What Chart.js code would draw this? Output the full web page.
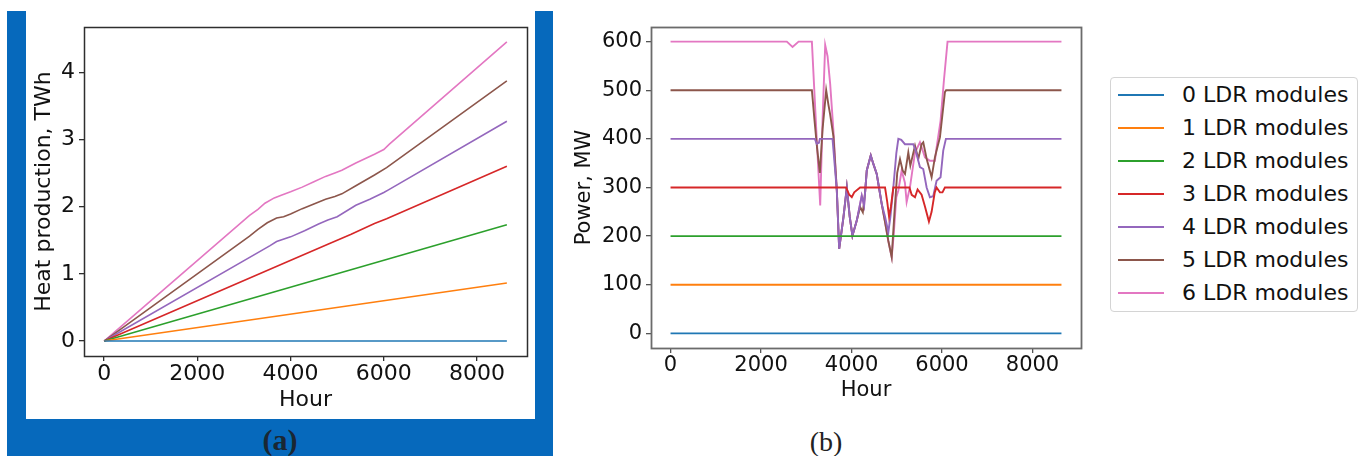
<!DOCTYPE html>
<html>
<head>
<meta charset="utf-8">
<script src="https://cdn.jsdelivr.net/npm/chart.js@4.4.1/dist/chart.umd.min.js"></script>
<style>
  body { margin: 0; width: 1365px; height: 456px; background: #fff; overflow: hidden; position: relative; }
  #panelA { position: absolute; left: 7px; top: 11px; width: 546px; height: 445px; background: #0669bc; }
  #whiteA { position: absolute; left: 26px; top: 11px; width: 509px; height: 408px; background: #fff; }
  canvas { position: absolute; }
  #heatChart { left: 26px; top: 11px; }
  #powerChart { left: 560px; top: 0; }
  .caption { position: absolute; font-family: "Liberation Serif", serif; line-height: 34px; text-align: center; }
  #capA { left: 7px; width: 546px; top: 423px; font-weight: bold; font-size: 30px; color: #1a2733; }
  #capB { left: 776px; width: 100px; top: 425px; font-size: 28px; color: #222; }
  #legend { position: absolute; left: 1110px; top: 77px; width: 248px; height: 235px; box-sizing: border-box;
            border: 1px solid #d4d4d4; border-radius: 4px; background: #fff;
            font-family: "DejaVu Sans", sans-serif; font-size: 22px; color: #111; }
  .item { position: absolute; left: 0; height: 33px; line-height: 33px; width: 100%; }
  .swatch { position: absolute; left: 7px; top: 16px; width: 46px; height: 0; border-top: 2px solid; }
  .label { position: absolute; left: 71px; top: 0; white-space: nowrap; }
</style>
</head>
<body>
<div id="panelA"></div>
<div id="whiteA"></div>
<canvas id="heatChart" width="509" height="408"></canvas>
<canvas id="powerChart" width="525" height="420"></canvas>
<div id="legend"></div>
<div class="caption" id="capA">(a)</div>
<div class="caption" id="capB">(b)</div>
<script>
// Axis ticks
const hourTicks = [0, 2000, 4000, 6000, 8000];
const heatTicks = [0, 1, 2, 3, 4];
const powerTicks = [0, 100, 200, 300, 400, 500, 600];

const seriesNames = ['0 LDR modules', '1 LDR modules', '2 LDR modules', '3 LDR modules',
                     '4 LDR modules', '5 LDR modules', '6 LDR modules'];
const seriesColors = ['#1f77b4', '#ff7f0e', '#2ca02c', '#d62728', '#9467bd', '#8c564b', '#e377c2'];

// (a) Heat production, TWh (cumulative)
const heatHours0 = [0, 8640];
const heat0 = [0, 0];
const heatHours1 = [0, 8640];
const heat1 = [0, 0.864];
const heatHours2 = [0, 8640];
const heat2 = [0, 1.73];
const heatHours3 = [0, 3930, 4800, 5300, 5800, 6060, 8640];
const heat3 = [0, 1.18, 1.44, 1.59, 1.75, 1.82, 2.60];
const heatHours4 = [0, 3560, 3700, 4000, 4300, 4600, 4800, 5000, 5400, 5700, 6000, 6100, 8640];
const heat4 = [0, 1.42, 1.48, 1.55, 1.64, 1.74, 1.80, 1.85, 2.02, 2.11, 2.21, 2.25, 3.27];
const heatHours5 = [0, 3120, 3300, 3500, 3700, 3850, 4000, 4250, 4500, 4750, 4950, 5100, 5400, 5800, 6060, 8640];
const heat5 = [0, 1.56, 1.66, 1.76, 1.83, 1.85, 1.89, 1.97, 2.04, 2.11, 2.15, 2.19, 2.31, 2.47, 2.58, 3.87];
const heatHours6 = [0, 3120, 3300, 3450, 3650, 3800, 4000, 4250, 4500, 4750, 4950, 5100, 5400, 5800, 6000, 6120, 8640];
const heat6 = [0, 1.87, 1.96, 2.05, 2.13, 2.17, 2.22, 2.29, 2.37, 2.45, 2.50, 2.54, 2.65, 2.78, 2.85, 2.93, 4.45];

// (b) Power, MW
const powerHours0 = [0, 8640];
const power0 = [0, 0];
const powerHours1 = [0, 8640];
const power1 = [100, 100];
const powerHours2 = [0, 8640];
const power2 = [200, 200];
const powerHours3 = [0, 3880, 3950, 4006, 4060, 4190, 4741, 4790, 4830, 4870, 4924, 5280, 5330, 5403,
                     5460, 5549, 5620, 5711, 5770, 5840, 5880, 5954, 6010, 6064, 8640];
const power3 = [300, 300, 285, 280, 290, 300, 300, 270, 240, 260, 300, 300, 285, 280,
                296, 285, 262, 230, 250, 290, 300, 290, 290, 300, 300];
const powerHours4 = [0, 3190, 3230, 3280, 3300, 3580, 3675, 3727, 3822, 3896, 3960, 4020, 4116, 4226,
                     4278, 4337, 4425, 4484, 4557, 4668, 4741, 4814, 4860, 4924, 4990, 5035, 5100,
                     5181, 5365, 5420, 5512, 5585, 5660, 5733, 5806, 5880, 5968, 6027, 6086, 8640];
const power4 = [400, 400, 390, 392, 400, 400, 294, 174, 239, 300, 240, 201, 232, 283,
                263, 335, 366, 348, 328, 266, 240, 208, 240, 300, 370, 400, 398,
                389, 389, 375, 342, 338, 300, 280, 282, 314, 321, 376, 400, 400];
const powerHours5 = [0, 3124, 3180, 3240, 3300, 3360, 3440, 3490, 3528, 3600, 3675, 3727, 3822, 3896,
                     3960, 4020, 4116, 4190, 4250, 4300, 4337, 4425, 4484, 4557, 4668, 4741, 4814,
                     4888, 4950, 5010, 5072, 5130, 5182, 5255, 5300, 5403, 5476, 5549, 5586, 5660,
                     5770, 5843, 5880, 5954, 6064, 6090, 8640];
const power5 = [500, 500, 440, 380, 330, 420, 500, 470, 450, 405, 294, 174, 239, 300,
                240, 201, 232, 260, 249, 290, 335, 366, 348, 328, 266, 229, 190,
                157, 250, 330, 358, 335, 328, 372, 345, 386, 359, 389, 393, 359,
                321, 362, 376, 403, 496, 500, 500];
const powerHours6 = [0, 2570, 2697, 2830, 3124, 3220, 3308, 3360, 3418, 3470, 3528, 3600, 3675, 3727,
                     3822, 3896, 3960, 4020, 4116, 4226, 4278, 4337, 4425, 4484, 4557, 4668, 4741,
                     4814, 4888, 4930, 4990, 5035, 5108, 5180, 5218, 5292, 5403, 5512, 5623, 5733,
                     5843, 5880, 5968, 6041, 6122, 8640];
const power6 = [600, 600, 589, 600, 600, 420, 263, 440, 593, 570, 513, 417, 294, 174,
                239, 300, 240, 201, 232, 283, 263, 335, 366, 348, 328, 266, 229,
                190, 157, 200, 280, 294, 335, 310, 270, 301, 372, 393, 362, 355,
                355, 382, 437, 519, 600, 600];

const heatSeries = [[heatHours0, heat0], [heatHours1, heat1], [heatHours2, heat2], [heatHours3, heat3],
                    [heatHours4, heat4], [heatHours5, heat5], [heatHours6, heat6]];
const powerSeries = [[powerHours0, power0], [powerHours1, power1], [powerHours2, power2], [powerHours3, power3],
                     [powerHours4, power4], [powerHours5, power5], [powerHours6, power6]];

const toPoints = (xs, ys) => xs.map((x, i) => ({x: x, y: ys[i]}));

function makeDatasets(series, width) {
    return series.map((s, i) => ({
        label: seriesNames[i],
        data: toPoints(s[0], s[1]),
        borderColor: seriesColors[i],
        backgroundColor: seriesColors[i],
        borderWidth: width,
        pointRadius: 0,
        tension: 0,
        fill: false
    }));
}

// matplotlib-like box round the plot area
const framePlugin = {
    id: 'frame',
    afterDraw(chart, args, opts) {
        const {ctx, chartArea: a} = chart;
        ctx.save();
        ctx.strokeStyle = opts.color;
        ctx.lineWidth = opts.width;
        ctx.strokeRect(Math.round(a.left) + 0.5, Math.round(a.top) + 0.5,
                       Math.round(a.right - a.left), Math.round(a.bottom - a.top));
        ctx.restore();
    }
};

function makeScales(cfg) {
    const tickFont = {family: 'DejaVu Sans', size: cfg.font, lineHeight: 1};
    const grid = {drawOnChartArea: false, drawTicks: true, tickLength: 5, color: cfg.frame, lineWidth: 1.3};
    return {
        x: {
            type: 'linear', min: cfg.xRange[0], max: cfg.xRange[1],
            afterBuildTicks: s => { s.ticks = hourTicks.map(v => ({value: v})); },
            afterFit: s => { s.height = cfg.xHeight; },
            ticks: {font: tickFont, color: '#111', padding: 2, maxRotation: 0, callback: v => String(v)},
            grid: grid,
            border: {display: false},
            title: {display: true, text: 'Hour', color: '#111', padding: {top: 0, bottom: cfg.xTitlePad},
                    font: {family: 'DejaVu Sans', size: cfg.font}}
        },
        y: {
            type: 'linear', min: cfg.yRange[0], max: cfg.yRange[1],
            afterBuildTicks: s => { s.ticks = cfg.yTicks.map(v => ({value: v})); },
            afterFit: s => { s.width = cfg.yWidth; },
            ticks: {font: tickFont, color: '#111', padding: 4, callback: v => String(v)},
            grid: grid,
            border: {display: false},
            title: {display: true, text: cfg.yTitle, color: '#111', padding: {top: cfg.yTitlePad, bottom: 0},
                    font: {family: 'DejaVu Sans', size: cfg.font}}
        }
    };
}

const heatChart = new Chart(document.getElementById('heatChart').getContext('2d'), {
    type: 'line',
    data: {datasets: makeDatasets(heatSeries, 1.6)},
    options: {
        responsive: false,
        animation: false,
        devicePixelRatio: 1,
        events: [],
        layout: {padding: {left: 0, top: 16, right: 8, bottom: 0}},
        plugins: {legend: {display: false}, tooltip: {enabled: false}, frame: {color: '#2e2e2e', width: 1.5}},
        scales: makeScales({xRange: [-432, 9072], yRange: [-0.2225, 4.6725], yTicks: heatTicks,
                            yTitle: 'Heat production, TWh', font: 22, frame: '#2e2e2e',
                            xHeight: 63, yWidth: 58, xTitlePad: 6, yTitlePad: 5})
    },
    plugins: [framePlugin]
});

const powerChart = new Chart(document.getElementById('powerChart').getContext('2d'), {
    type: 'line',
    data: {datasets: makeDatasets(powerSeries, 1.9)},
    options: {
        responsive: false,
        animation: false,
        devicePixelRatio: 1,
        events: [],
        layout: {padding: {left: 0, top: 27, right: 4, bottom: 0}},
        plugins: {legend: {display: false}, tooltip: {enabled: false}, frame: {color: '#6b6b6b', width: 1.8}},
        scales: makeScales({xRange: [-432, 9072], yRange: [-30, 630], yTicks: powerTicks,
                            yTitle: 'Power, MW', font: 21, frame: '#555',
                            xHeight: 72, yWidth: 91, xTitlePad: 17, yTitlePad: 12})
    },
    plugins: [framePlugin]
});

// HTML legend built from the chart's own datasets
const legendBox = document.getElementById('legend');
powerChart.data.datasets.forEach((ds, i) => {
    const row = document.createElement('div');
    row.className = 'item';
    row.style.top = (i * 33) + 'px';
    const sw = document.createElement('div');
    sw.className = 'swatch';
    sw.style.borderTopColor = ds.borderColor;
    const lb = document.createElement('div');
    lb.className = 'label';
    lb.textContent = ds.label;
    row.appendChild(sw);
    row.appendChild(lb);
    legendBox.appendChild(row);
});
</script>
</body>
</html>
